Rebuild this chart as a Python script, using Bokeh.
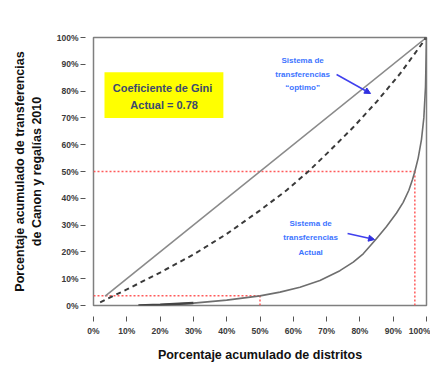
from bokeh.plotting import figure
from bokeh.models import FixedTicker, Arrow, NormalHead, Range1d
from bokeh.core.properties import value
from bokeh.embed import file_html
from bokeh.resources import INLINE

# ---- data ----
tick_values = [0, 10, 20, 30, 40, 50, 60, 70, 80, 90, 100]
tick_labels = ["0%", "10%", "20%", "30%", "40%", "50%", "60%", "70%", "80%", "90%", "100%"]

equality_x = [3.5, 100]
equality_y = [3.5, 100]

optimo_x = [2, 10, 20, 30, 40, 50, 58, 64.5, 71, 78, 85, 92, 100]
optimo_y = [1.2, 6.0, 12.3, 19.0, 26.7, 35.5, 43.0, 50.0, 57.8, 66.5, 76.0, 86.4, 100]

actual_x = [13.5, 20, 30, 40, 50, 56, 62, 68, 74, 78, 81, 84.7, 88, 91, 93, 94.7, 95.8,
            96.5, 97.5, 98.5, 99.2, 99.7, 100]
actual_y = [0.0, 0.3, 0.9, 2.0, 3.6, 5.0, 6.8, 9.3, 13.0, 16.2, 19.3, 24.5, 29.5, 34.5, 38.5, 43.0, 47.0,
            50.0, 55.0, 62.0, 70.0, 81.5, 100]

low_point = (50, 3.6)
high_point = (96.5, 50)

gini_text = ["Coeficiente  de Gini", "Actual = 0.78"]
optimo_label = ["Sistema de", "transferencias", "\u201coptimo\u201d"]
actual_label = ["Sistema de", "transferencias", "Actual"]

p = figure(width=430, height=364, output_backend="svg", toolbar_location=None,
           x_range=Range1d(0, 100), y_range=Range1d(0, 100),
           min_border_left=93, min_border_right=4, min_border_top=37, min_border_bottom=59)
p.frame_width = 333
p.frame_height = 268

p.xgrid.visible = False
p.ygrid.visible = False
p.outline_line_color = "#7f7f7f"
p.outline_line_width = 1.5
p.background_fill_color = "white"
p.border_fill_color = "white"

for ax in (p.xaxis, p.yaxis):
    ax.ticker = FixedTicker(ticks=tick_values)
    ax.major_label_overrides = {v: l for v, l in zip(tick_values, tick_labels)}
    ax.minor_tick_line_color = None
    ax.axis_line_color = None
    ax.major_tick_line_color = "#555555"
    ax.major_tick_line_width = 1
    ax.major_label_text_font = "Liberation Sans"
    ax.major_label_text_font_style = "bold"
    ax.major_label_text_font_size = "8.5px"
    ax.major_label_text_color = "#3a3a3a"
    ax.axis_label_text_font = "Liberation Sans"
    ax.axis_label_text_font_style = "bold"
    ax.axis_label_text_font_size = "12.5px"
    ax.axis_label_text_color = "#111111"

p.yaxis.major_tick_in = -8
p.yaxis.major_tick_out = 13
p.yaxis.major_label_standoff = 2
p.yaxis.axis_label = "Porcentaje acumulado de transferencias\nde Canon y regal\u00edas 2010"
p.yaxis.axis_label_standoff = 10

p.xaxis.major_tick_in = -11
p.xaxis.major_tick_out = 16
p.xaxis.major_label_standoff = 4
p.xaxis.axis_label = "Porcentaje acumulado de distritos"
p.xaxis.axis_label_standoff = 9

# yellow box
p.quad(left=3.3, right=39, bottom=70, top=87, fill_color="#ffff00", line_color=None)
p.text(x=[21.2, 21.2], y=[81.3, 75], text=gini_text, text_align="center", text_baseline="middle",
       text_font=value("Liberation Sans"), text_font_style="bold", text_font_size="11px",
       text_color="#3c4a6e")

# reference dotted lines
red = "#ff5a5a"
p.line([0, low_point[0]], [low_point[1], low_point[1]], line_color=red, line_width=1.5, line_dash="2 2")
p.line([low_point[0], low_point[0]], [0, low_point[1]], line_color=red, line_width=1.5, line_dash="2 2")
p.line([0, high_point[0]], [high_point[1], high_point[1]], line_color=red, line_width=1.5, line_dash="2 2")
p.line([high_point[0], high_point[0]], [0, high_point[1]], line_color=red, line_width=1.5, line_dash="2 2")

# curves
p.line(equality_x, equality_y, line_color="#8a8a8a", line_width=1.6)
p.line(optimo_x, optimo_y, line_color="#3a3a3a", line_width=2, line_dash="5 4")
p.line(actual_x, actual_y, line_color="#6e6e6e", line_width=1.6)
p.line(actual_x[:3], actual_y[:3], line_color="#444444", line_width=2.5)
p.scatter([100], [100], marker="square", size=4, color="#555555")

# annotations
for xs, ys, lbl in ((62.8, [91.4, 86.2, 81.3], optimo_label), (65.2, [30.6, 25.4, 19.8], actual_label)):
    p.text(x=[xs] * 3, y=ys, text=lbl, text_align="center", text_baseline="middle",
           text_font=value("Liberation Sans"), text_font_style="bold", text_font_size="8px",
           text_color="#3d74ff")

p.add_layout(Arrow(end=NormalHead(size=6, fill_color="#3030e0", line_color="#3030e0"),
                   x_start=73, y_start=86.2, x_end=83.2, y_end=79.1,
                   line_color="#4040ee", line_width=1.5))
p.add_layout(Arrow(end=NormalHead(size=6, fill_color="#3030e0", line_color="#3030e0"),
                   x_start=76.3, y_start=26.9, x_end=84.4, y_end=24.6,
                   line_color="#4040ee", line_width=1.5))

open("out.html", "w").write(file_html(p, INLINE))
